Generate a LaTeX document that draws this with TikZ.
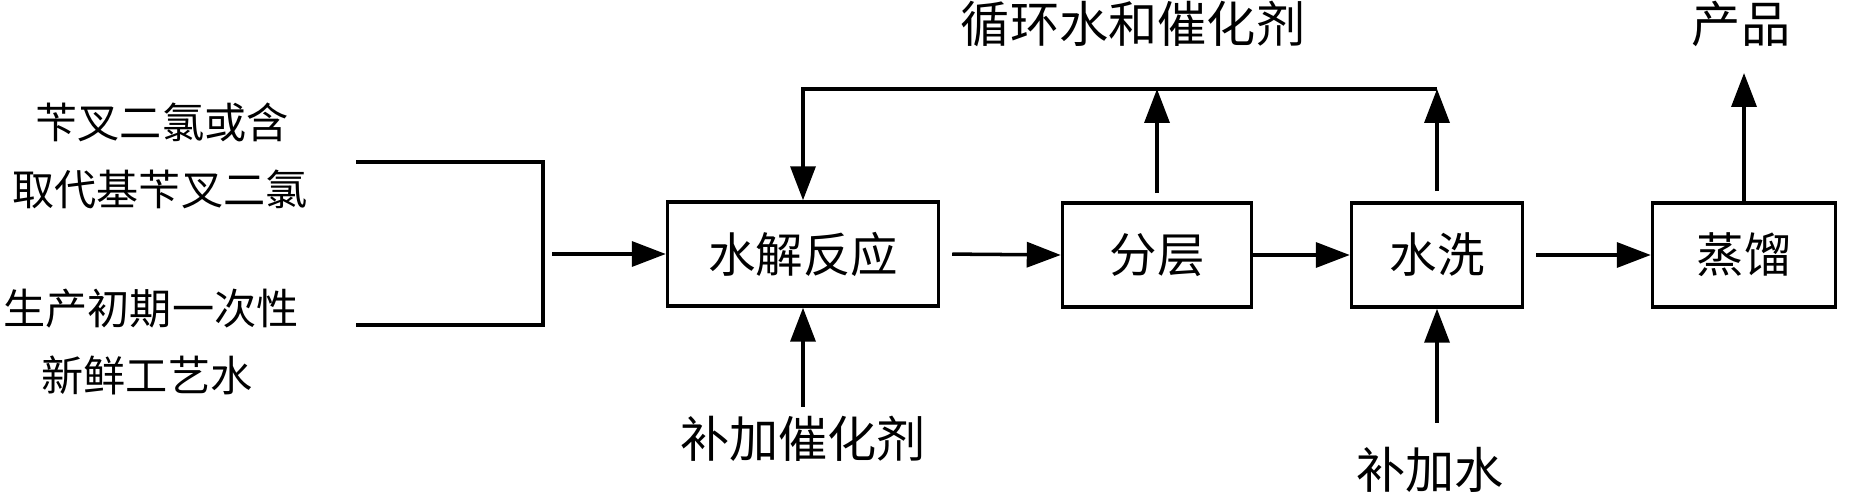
\documentclass[tikz,border=0pt]{standalone}
\usepackage{fontspec}
\setmainfont{Noto Sans CJK SC}
\usetikzlibrary{arrows.meta}

\tikzset{
  box/.style={draw, line width=2pt, minimum height=2.08cm, inner sep=0pt, font=\fontsize{27}{31}\selectfont},
  flow/.style={line width=2pt, -{Triangle[length=0.68cm,width=0.5cm]}},
  txt/.style={font=\fontsize{24}{28}\selectfont, inner sep=0pt},
  bigtxt/.style={font=\fontsize{28}{32}\selectfont, inner sep=0pt},
}

\begin{document}
\begin{tikzpicture}[x=0.02cm,y=-0.02cm]
\useasboundingbox (0,0) rectangle (1851,492);

% feed texts
\node[txt] (feedA) at (162,122) {苄叉二氯或含};
\node[txt] (feedB) at (160,189) {取代基苄叉二氯};
\node[txt] (feedC) at (151,309) {生产初期一次性};
\node[txt] (feedD) at (147,375) {新鲜工艺水};

% process boxes
\node[box, minimum width=5.42cm] (hydro) at (803,254) {水解反应};
\node[box, minimum width=3.78cm] (sep) at (1157,255) {分层};
\node[box, minimum width=3.42cm] (wash) at (1437,255) {水洗};
\node[box, minimum width=3.66cm] (dist) at (1744,255) {蒸馏};

% bracket
\coordinate (brTop) at (543,162);
\coordinate (brBot) at (543,325);
\coordinate (brOut) at (552,254);
\draw[line width=2pt] (356,162) -- (brTop) -- (brBot) -- (356,325);

\draw[flow] (brOut) -- (hydro.west);
\draw[flow, shorten <=0.24cm] (hydro.east) -- (sep.west);
\draw[flow] (sep.east) -- (wash.west);
\draw[flow, shorten <=0.24cm] (wash.east) -- (dist.west);

% recycle loop
\node[bigtxt] (recyc) at (1133,24) {循环水和催化剂};
\coordinate (loopL) at (803,89);
\coordinate (loopR) at (1437,89);
\draw[flow] (loopR) -- (loopL) -- (hydro.north);
\draw[flow, shorten <=0.16cm] (sep.north) -- (sep.north |- loopL);
\draw[flow, shorten <=0.2cm] (wash.north) -- (loopR);

% product
\node[bigtxt] (prod) at (1741,24) {产品};
\coordinate (prodTip) at (1744,73);
\draw[flow] (dist.north) -- (prodTip);

% make-up streams
\node[bigtxt] (cat) at (803,439) {补加催化剂};
\node[bigtxt] (water) at (1430,470) {补加水};
\coordinate (catIn) at (803,407);
\coordinate (waterIn) at (1437,423);
\draw[flow] (catIn) -- (hydro.south);
\draw[flow] (waterIn) -- (wash.south);
\end{tikzpicture}
\end{document}
